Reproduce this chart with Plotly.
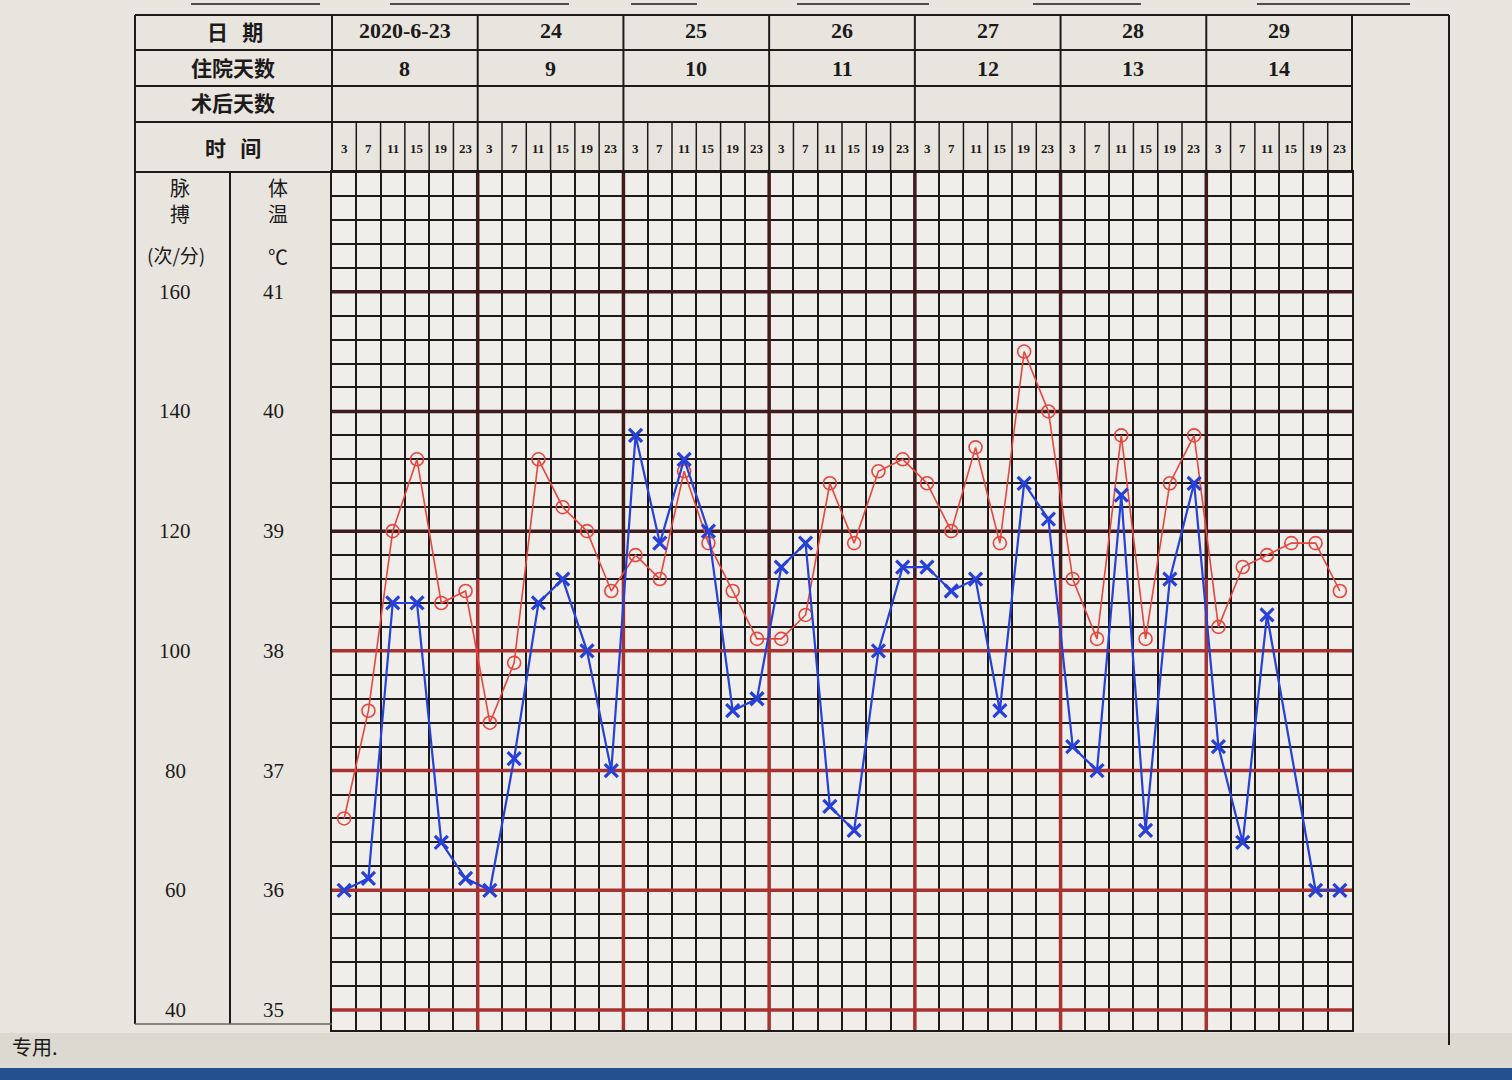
import plotly.graph_objects as go

# ---------------- data ----------------
dates = ["2020-6-23", "24", "25", "26", "27", "28", "29"]
hosp_days = ["8", "9", "10", "11", "12", "13", "14"]
times = [3, 7, 11, 15, 19, 23]

temp = [36.6, 37.5, 39.0, 39.6, 38.4, 38.5,
        37.4, 37.9, 39.6, 39.2, 39.0, 38.5,
        38.8, 38.6, 39.5, 38.9, 38.5, 38.1,
        38.1, 38.3, 39.4, 38.9, 39.5, 39.6,
        39.4, 39.0, 39.7, 38.9, 40.5, 40.0,
        38.6, 38.1, 39.8, 38.1, 39.4, 39.8,
        38.2, 38.7, 38.8, 38.9, 38.9, 38.5]

pulse = [60, 62, 108, 108, 68, 62,
         60, 82, 108, 112, 100, 80,
         136, 118, 132, 120, 90, 92,
         114, 118, 74, 70, 100, 114,
         114, 110, 112, 90, 128, 122,
         84, 80, 126, 70, 112, 128,
         84, 68, 106, None, 60, 60]

pulse_ticks = [160, 140, 120, 100, 80, 60, 40]
temp_ticks = [41, 40, 39, 38, 37, 36, 35]

# ---------------- geometry ----------------
W, H = 1512, 1080
L, R, T, B = 332, 1352, 172, 1030          # plot area in pixels
n_days = len(dates)
n_t = len(times)
n_cols = n_days * n_t
T_MIN, T_MAX = 34.833, 42.0
P_MIN, P_MAX = 20 * T_MIN - 660, 20 * T_MAX - 660


def px(xp):
    return (xp - L) / (R - L)


def py(yp):
    return (B - yp) / (B - T)


col_w = (R - L) / n_cols
xs = [i + 0.5 for i in range(n_cols)]

INK = "#1d1a1a"
DARK = "#3f1b1b"
RED = "#a8322f"
CJK = "Noto Sans CJK SC"
SERIF = "Liberation Serif"

fig = go.Figure()

fig.add_trace(go.Scatter(
    x=xs, y=temp, mode="lines+markers", name="体温",
    line=dict(color="#e8453d", width=1.6),
    marker=dict(symbol="circle-open", size=13, color="#e8453d",
                line=dict(width=1.6, color="#e8453d")),
    yaxis="y", showlegend=False))

fig.add_trace(go.Scatter(
    x=xs, y=pulse, mode="lines+markers", name="脉搏",
    line=dict(color="#2640d8", width=2.2),
    marker=dict(symbol="x-thin-open", size=13, color="#2640d8",
                line=dict(width=3.2, color="#2640d8")),
    connectgaps=True, yaxis="y2", showlegend=False))

shapes = []
annotations = []

# background panels
shapes.append(dict(type="rect", xref="paper", yref="paper", x0=px(0), x1=px(W),
                   y0=py(1033), y1=py(1068), fillcolor="#dcd9d1", line=dict(width=0), layer="below"))
shapes.append(dict(type="rect", xref="paper", yref="paper", x0=px(0), x1=px(W),
                   y0=py(1068), y1=py(1080), fillcolor="#24508f", line=dict(width=0), layer="below"))

# thick integer temperature lines
for t in temp_ticks:
    shapes.append(dict(type="line", xref="x", yref="y", x0=0, x1=n_cols, y0=t, y1=t,
                       line=dict(color=DARK if t >= 39 else RED, width=3.5), layer="between"))
# thick day boundary lines
for d in range(1, n_days):
    xd = d * n_t
    shapes.append(dict(type="line", xref="x", yref="y", x0=xd, x1=xd, y0=38.6, y1=T_MAX,
                       line=dict(color=DARK, width=3.5), layer="between"))
    shapes.append(dict(type="line", xref="x", yref="y", x0=xd, x1=xd, y0=T_MIN, y1=38.6,
                       line=dict(color=RED, width=3.5), layer="between"))


def hline(y, x0, x1, w=2, color=INK):
    shapes.append(dict(type="line", xref="paper", yref="paper", x0=px(x0), x1=px(x1),
                       y0=py(y), y1=py(y), line=dict(color=color, width=w), layer="above"))


def vline(x, y0, y1, w=2, color=INK):
    shapes.append(dict(type="line", xref="paper", yref="paper", x0=px(x), x1=px(x),
                       y0=py(y0), y1=py(y1), line=dict(color=color, width=w), layer="above"))


# header table
hline(15, 135, 1449, 2)
for yy in (50, 86, 122):
    hline(yy, 135, R, 2)
hline(T, 135, R, 2)
vline(135, 15, 1024, 2)
vline(L, 15, T, 2)
vline(230, T, 1024, 2)
vline(R, 15, T, 2)
vline(1449, 15, 1045, 2)
for d in range(1, n_days):
    vline(L + d * n_t * col_w, 15, T, 2)
for c in range(1, n_cols):
    if c % n_t:
        vline(L + c * col_w, 122, T, 1.5)
hline(1024, 135, L, 1.5, "#6a6660")

# top cut-off form underlines
for a, b in [(191, 320), (390, 569), (631, 697), (797, 929), (1033, 1141), (1257, 1410)]:
    hline(4, a, b, 1.5)


def text(x, y, s, size, font=CJK, bold=True, color=INK, yref="paper"):
    annotations.append(dict(
        x=px(x), y=(py(y) if yref == "paper" else y), xref="paper", yref=yref,
        text=("<b>%s</b>" % s) if bold else s, showarrow=False,
        font=dict(family=font, size=size, color=color),
        xanchor="center", yanchor="middle"))


text(235, 31, "日 &nbsp;&nbsp;期", 21)
text(233, 67, "住院天数", 21)
text(233, 102, "术后天数", 21)
text(233, 147, "时 &nbsp;&nbsp;间", 21)

for i, (dt, hd) in enumerate(zip(dates, hosp_days)):
    cx = L + (i * n_t + n_t / 2) * col_w
    text(cx, 31, dt, 22, SERIF)
    text(cx, 69, hd, 22, SERIF)
for c in range(n_cols):
    cx = L + (c + 0.5) * col_w
    text(cx, 148, str(times[c % n_t]), 13, SERIF)

text(180, 200, "脉<br>搏", 20, bold=False)
text(176, 254, "(次/分)", 19, bold=False)
text(278, 200, "体<br>温", 20, bold=False)
text(278, 256, "℃", 20, bold=False)

for p, t in zip(pulse_ticks, temp_ticks):
    text(175, None, str(p), 21, SERIF, bold=False, yref="y")
    annotations[-1]["y"] = t
    text(273, None, str(t), 21, SERIF, bold=False, yref="y")
    annotations[-1]["y"] = t

text(35, 1046, "专用.", 20, bold=False)

fig.update_layout(
    width=W, height=H,
    margin=dict(l=L, r=W - R, t=T, b=H - B, pad=0),
    paper_bgcolor="#e8e5df",
    plot_bgcolor="#efeeea",
    shapes=shapes,
    annotations=annotations,
    xaxis=dict(range=[0, n_cols], showgrid=True, dtick=1, tick0=0,
               gridcolor=INK, gridwidth=1.6, showticklabels=False, ticks="",
               zeroline=False, showline=True, mirror=True, linecolor=INK, linewidth=2,
               fixedrange=True),
    yaxis=dict(range=[T_MIN, T_MAX], showgrid=True, dtick=0.2, tick0=35,
               gridcolor=INK, gridwidth=1.6, showticklabels=False, ticks="",
               zeroline=False, showline=True, mirror=True, linecolor=INK, linewidth=2,
               fixedrange=True),
    yaxis2=dict(range=[P_MIN, P_MAX], overlaying="y", side="right",
                showgrid=False, showticklabels=False, ticks="", zeroline=False,
                showline=False, fixedrange=True),
)

fig.write_html("out.html",
               config={"displayModeBar": False},
               post_script="document.body.style.margin='0';document.body.style.padding='0';")
